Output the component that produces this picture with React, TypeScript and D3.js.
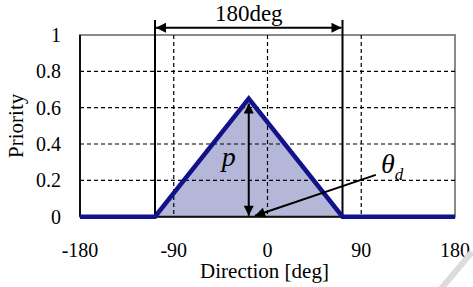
import { useRef, useEffect } from "react";
import * as d3 from "d3";

const W = 473;
const H = 287;
const MARGIN = { top: 35, right: 18, bottom: 70.3, left: 80 };

// priority profile (direction deg -> priority)
const directions = [-180, -108, -18, 72, 180];
const priorities = [0, 0, 0.65, 0, 0];

// 180deg window edges
const windowEdges = [-108, 72];

const xTicks = [-180, -90, 0, 90, 180];
const yTicks = [0, 0.2, 0.4, 0.6, 0.8, 1];
const yTickLabels = ["0", "0.2", "0.4", "0.6", "0.8", "1"];

const FONT = "'Liberation Serif', 'DejaVu Serif', serif";
const LINE = "#12128a";
const FILL = "#b5b7d8";

export default function App() {
  const svgRef = useRef<SVGSVGElement>(null);

  useEffect(() => {
    if (!svgRef.current) return;
    const innerW = W - MARGIN.left - MARGIN.right;
    const innerH = H - MARGIN.top - MARGIN.bottom;

    const svg = d3.select(svgRef.current);
    svg.selectAll("*").remove();

    const defs = svg.append("defs");
    defs
      .append("marker")
      .attr("id", "head")
      .attr("viewBox", "0 0 10 10")
      .attr("refX", 10)
      .attr("refY", 5)
      .attr("markerWidth", 7)
      .attr("markerHeight", 5)
      .attr("markerUnits", "strokeWidth")
      .attr("orient", "auto-start-reverse")
      .append("path")
      .attr("d", "M0,0 L10,5 L0,10 Z")
      .attr("fill", "#000");

    const g = svg
      .append("g")
      .attr("transform", `translate(${MARGIN.left},${MARGIN.top})`);

    const x = d3.scaleLinear().domain([-180, 180]).range([0, innerW]);
    const y = d3.scaleLinear().domain([0, 1]).range([innerH, 0]);

    const pts = directions.map((d, i) => [d, priorities[i]] as [number, number]);

    // frame
    g.append("rect")
      .attr("x", 0)
      .attr("y", 0)
      .attr("width", innerW)
      .attr("height", innerH)
      .attr("fill", "#fff")
      .attr("stroke", "#8a8a8a")
      .attr("stroke-width", 2);

    // filled triangle (under the grid)
    const area = d3
      .area<[number, number]>()
      .x((d) => x(d[0]))
      .y0(y(0))
      .y1((d) => y(d[1]));
    g.append("path").datum(pts).attr("d", area).attr("fill", FILL);

    // dashed grid
    g.append("g")
      .selectAll("line")
      .data(yTicks.filter((d) => d > 0 && d < 1))
      .join("line")
      .attr("x1", 0)
      .attr("x2", innerW)
      .attr("y1", (d) => y(d))
      .attr("y2", (d) => y(d))
      .attr("stroke", "#000")
      .attr("stroke-width", 1.2)
      .attr("stroke-dasharray", "4 3");
    g.append("g")
      .selectAll("line")
      .data(xTicks.filter((d) => d > -180 && d < 180))
      .join("line")
      .attr("x1", (d) => x(d))
      .attr("x2", (d) => x(d))
      .attr("y1", 0)
      .attr("y2", innerH)
      .attr("stroke", "#000")
      .attr("stroke-width", 1.2)
      .attr("stroke-dasharray", "4 3");

    // left and bottom axis lines
    g.append("line")
      .attr("x1", 0)
      .attr("x2", 0)
      .attr("y1", 0)
      .attr("y2", innerH)
      .attr("stroke", "#111")
      .attr("stroke-width", 2);
    g.append("line")
      .attr("x1", 0)
      .attr("x2", innerW)
      .attr("y1", innerH)
      .attr("y2", innerH)
      .attr("stroke", "#111")
      .attr("stroke-width", 2);

    // window edge lines
    g.append("g")
      .selectAll("line")
      .data(windowEdges)
      .join("line")
      .attr("x1", (d) => x(d))
      .attr("x2", (d) => x(d))
      .attr("y1", y(1.083))
      .attr("y2", innerH)
      .attr("stroke", "#000")
      .attr("stroke-width", 2);

    // profile line
    const line = d3
      .line<[number, number]>()
      .x((d) => x(d[0]))
      .y((d) => y(d[1]));
    g.append("path")
      .datum(pts)
      .attr("d", line)
      .attr("fill", "none")
      .attr("stroke", LINE)
      .attr("stroke-width", 4.5)
      .attr("stroke-linejoin", "miter");

    // 180deg arrow
    g.append("line")
      .attr("x1", x(windowEdges[0]) + 1)
      .attr("x2", x(windowEdges[1]) - 1)
      .attr("y1", y(1.04))
      .attr("y2", y(1.04))
      .attr("stroke", "#000")
      .attr("stroke-width", 2)
      .attr("marker-start", "url(#head)")
      .attr("marker-end", "url(#head)");
    g.append("text")
      .attr("x", x((windowEdges[0] + windowEdges[1]) / 2))
      .attr("y", y(1.078))
      .attr("text-anchor", "middle")
      .attr("font-family", FONT)
      .attr("font-size", 23)
      .text("180deg");

    // p arrow
    const peak = d3.maxIndex(priorities);
    g.append("line")
      .attr("x1", x(directions[peak]))
      .attr("x2", x(directions[peak]))
      .attr("y1", y(priorities[peak]) + 5)
      .attr("y2", innerH - 1)
      .attr("stroke", "#000")
      .attr("stroke-width", 2)
      .attr("marker-start", "url(#head)")
      .attr("marker-end", "url(#head)");
    g.append("text")
      .attr("x", x(-44))
      .attr("y", y(0.28))
      .attr("font-family", FONT)
      .attr("font-style", "italic")
      .attr("font-size", 28)
      .text("p");

    // theta_d arrow
    g.append("line")
      .attr("x1", x(104))
      .attr("y1", y(0.23))
      .attr("x2", x(-12))
      .attr("y2", y(0.005))
      .attr("stroke", "#000")
      .attr("stroke-width", 2)
      .attr("marker-end", "url(#head)");
    const th = g
      .append("text")
      .attr("x", x(109))
      .attr("y", y(0.24))
      .attr("font-family", FONT)
      .attr("font-style", "italic")
      .attr("font-size", 28);
    th.append("tspan").text("θ");
    th.append("tspan")
      .attr("font-size", 17)
      .attr("dy", 7)
      .text("d");

    // tick labels
    g.append("g")
      .selectAll("text")
      .data(yTicks)
      .join("text")
      .attr("x", -19)
      .attr("y", (d) => y(d))
      .attr("dy", "0.35em")
      .attr("text-anchor", "end")
      .attr("font-family", FONT)
      .attr("font-size", 20)
      .text((_, i) => yTickLabels[i]);
    g.append("g")
      .selectAll("text")
      .data(xTicks)
      .join("text")
      .attr("x", (d) => x(d))
      .attr("y", innerH + 40)
      .attr("text-anchor", "middle")
      .attr("font-family", FONT)
      .attr("font-size", 20)
      .text((d) => String(d));

    // axis titles
    g.append("text")
      .attr("x", innerW / 2 - 3)
      .attr("y", innerH + 61)
      .attr("text-anchor", "middle")
      .attr("font-family", FONT)
      .attr("font-size", 21)
      .text("Direction [deg]");
    g.append("text")
      .attr("transform", `translate(${-MARGIN.left + 23},${y(0.5)}) rotate(-90)`)
      .attr("text-anchor", "middle")
      .attr("font-family", FONT)
      .attr("font-size", 21)
      .text("Priority");

    // faint watermark stroke
    svg
      .append("line")
      .attr("x1", 440)
      .attr("y1", 290)
      .attr("x2", 472)
      .attr("y2", 252)
      .attr("stroke", "#dcdcdc")
      .attr("stroke-width", 6);
  }, []);

  return (
    <svg
      ref={svgRef}
      width={W}
      height={H}
      style={{ position: "absolute", left: 0, top: 0, background: "#fff" }}
    />
  );
}
